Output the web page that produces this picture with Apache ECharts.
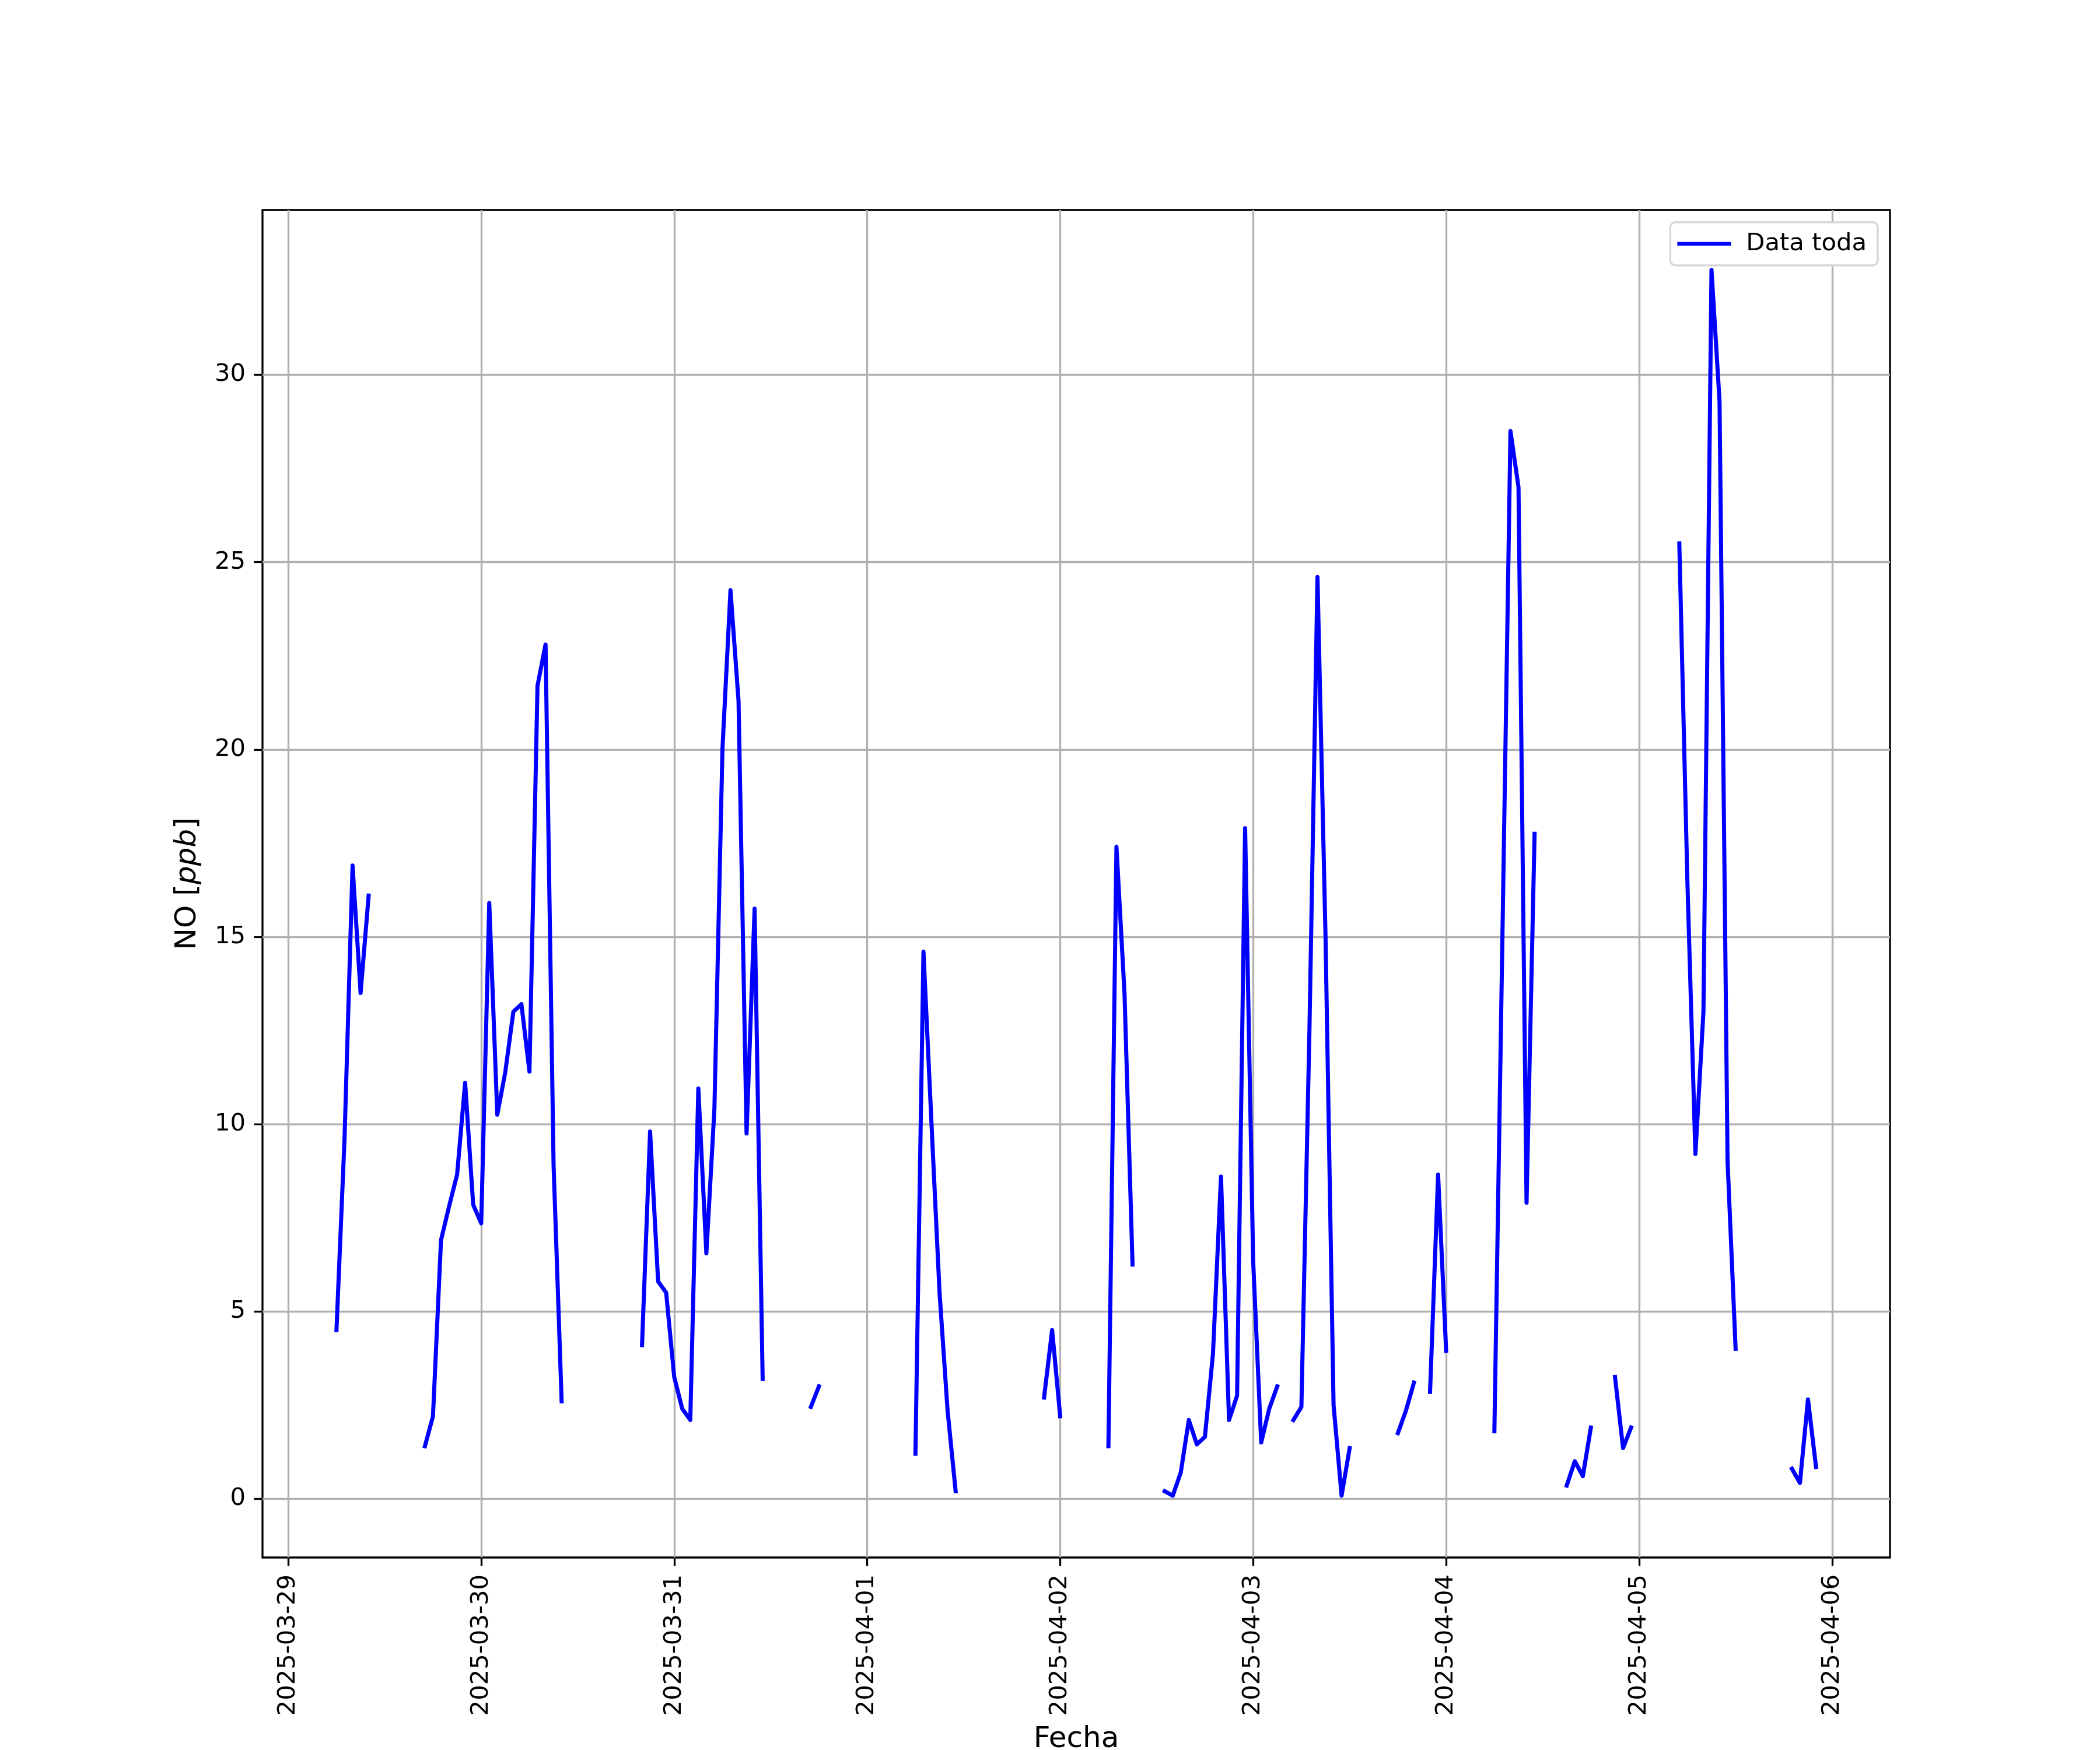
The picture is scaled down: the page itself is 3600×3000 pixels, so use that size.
<!DOCTYPE html>
<html><head><meta charset="utf-8">
<script src="https://cdn.jsdelivr.net/npm/echarts@6/dist/echarts.min.js"></script>
<style>html,body{margin:0;padding:0;background:#fff}#c{width:3600px;height:3000px}</style>
</head><body><div id="c"></div>
<script>
// Hourly NO values [ppb], hours 00..23 of each day (null = no data)
const firstDay = '2025-03-29';
const d0329 = [null,null,null,null,null,null,4.5,9.6,16.9,13.5,16.1,null,null,null,null,null,null,1.4,2.2,6.9,7.8,8.65,11.1,7.85];
const d0330 = [7.35,15.9,10.25,11.4,13.0,13.2,11.4,21.7,22.8,8.9,2.6,null,null,null,null,null,null,null,null,null,4.1,9.8,5.8,5.5];
const d0331 = [3.25,2.4,2.1,10.95,6.55,10.4,20.0,24.25,21.3,9.75,15.75,3.2,null,null,null,null,null,2.45,3.0,null,null,null,null,null];
const d0401 = [null,null,null,null,null,null,1.2,14.6,10.0,5.5,2.35,0.2,null,null,null,null,null,null,null,null,null,null,2.7,4.5];
const d0402 = [2.2,null,null,null,null,null,1.4,17.4,13.5,6.25,null,null,null,0.2,0.08,0.7,2.1,1.45,1.65,3.85,8.6,2.1,2.75,17.9];
const d0403 = [6.35,1.5,2.4,3.0,null,2.1,2.45,12.5,24.6,15.0,2.5,0.08,1.35,null,null,null,null,null,1.75,2.35,3.1,null,2.85,8.65];
const d0404 = [3.95,null,null,null,null,null,1.8,15.0,28.5,27.0,7.9,17.75,null,null,null,0.35,1.0,0.6,1.9,null,null,3.25,1.35,1.9];
const d0405 = [null,null,null,null,null,25.5,16.5,9.2,13.0,32.8,29.3,9.0,4.0,null,null,null,null,null,null,0.8,0.42,2.65,0.85,null];
const days = [d0329,d0330,d0331,d0401,d0402,d0403,d0404,d0405];
const xTickLabels = ['2025-03-29','2025-03-30','2025-03-31','2025-04-01','2025-04-02','2025-04-03','2025-04-04','2025-04-05','2025-04-06'];
const yTicks = [0,5,10,15,20,25,30];
const seriesName = 'Data toda';

const H = 3600000;
const t0 = Date.parse(firstDay);
const seriesData = [];
days.forEach((arr, d) => arr.forEach((v, h) => {
  seriesData.push([t0 + (d*24 + h)*H, v === null ? '-' : v]);
}));
const xTicks = xTickLabels.map(s => Date.parse(s));
const xMin = Date.parse('2025-03-28T20:48:00Z');
const xMax = Date.parse('2025-04-06T07:12:00Z');

const FS = 41.7, FN = 50, FF = 'DejaVu Sans';
const chart = echarts.init(document.getElementById('c'), null, {renderer: 'canvas'});
chart.setOption({
  animation: false,
  backgroundColor: '#fff',
  grid: {left: 450, top: 360, width: 2790, height: 2310, show: true, borderColor: '#000', borderWidth: 3.3,
    backgroundColor: 'transparent', containLabel: false, outerBoundsMode: 'none'},
  legend: {
    data: [{name: seriesName, icon: 'rect'}],
    right: 381, top: 381,
    itemWidth: 92, itemHeight: 6.5,
    padding: [16, 19, 16, 12],
    borderColor: '#d6d6d6', borderWidth: 3.3, borderRadius: 9,
    backgroundColor: '#fff',
    textStyle: {fontFamily: FF, fontSize: FS, color: '#000', padding: [0, 0, 0, 21]}
  },
  xAxis: {
    type: 'value', min: xMin, max: xMax,
    name: 'Fecha', nameLocation: 'middle', nameGap: 287,
    nameTextStyle: {fontFamily: FF, fontSize: FN, color: '#000'},
    axisLine: {show: false, onZero: false},
    axisTick: {show: true, customValues: xTicks, length: 14.6, lineStyle: {color: '#000', width: 3.3}},
    axisLabel: {customValues: xTicks, rotate: 90, margin: 29, fontFamily: FF, fontSize: FS, color: '#000',
      formatter: v => new Date(v).toISOString().slice(0, 10)},
    splitLine: {show: true, lineStyle: {color: '#b0b0b0', width: 3.3}}
  },
  yAxis: {
    type: 'value', min: -1.57, max: 34.4,
    name: 'NO [{i|ppb}]', nameLocation: 'middle', nameGap: 103,
    nameTextStyle: {fontFamily: FF, fontSize: FN, color: '#000', rich: {i: {fontFamily: FF, fontSize: FN, fontStyle: 'italic', color: '#000'}}},
    axisLine: {show: false, onZero: false},
    axisTick: {show: true, customValues: yTicks, length: 14.6, lineStyle: {color: '#000', width: 3.3}},
    axisLabel: {customValues: yTicks, margin: 29, fontFamily: FF, fontSize: FS, color: '#000'},
    splitLine: {show: true, lineStyle: {color: '#b0b0b0', width: 3.3}}
  },
  series: [{
    name: seriesName, type: 'line', data: seriesData,
    showSymbol: false, symbol: 'none', connectNulls: false,
    lineStyle: {color: '#0000ff', width: 7, cap: 'square', join: 'round'},
    itemStyle: {color: '#0000ff'}
  }]
});
</script></body></html>
